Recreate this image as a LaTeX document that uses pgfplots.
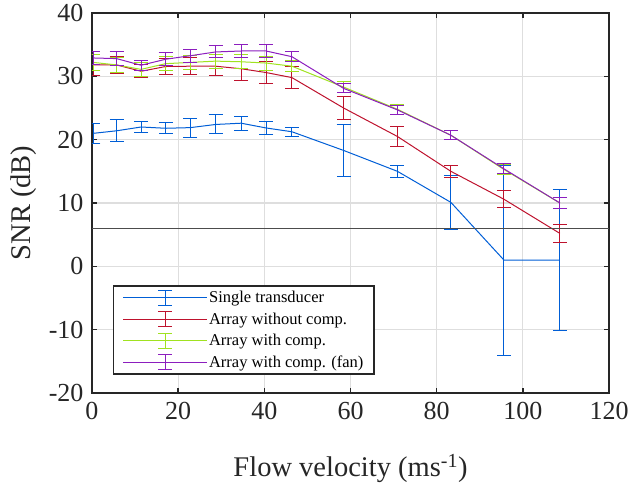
\documentclass[border=0pt]{standalone}
\usepackage{fontspec}
\setmainfont{Liberation Serif}
\usepackage{pgfplots}
\pgfplotsset{compat=1.18}
\definecolor{cblue}{RGB}{0,94,214}
\definecolor{cred}{RGB}{190,18,45}
\definecolor{cgreen}{RGB}{160,226,32}
\definecolor{cpurple}{RGB}{140,30,190}
\definecolor{axc}{RGB}{38,38,38}
\pgfplotstableread{
x y e
0.3 21.0 1.6
5.7 21.4 1.75
11.4 22.0 0.85
17.1 21.8 0.85
22.8 21.9 1.5
28.7 22.4 1.5
34.6 22.6 1.1
40.4 21.85 1.0
46.4 21.25 0.75
58.4 18.3 4.1
70.9 15.0 0.95
83.3 10.1 4.3
95.6 1.0 15.0
108.6 1.0 11.2
}\single
\pgfplotstableread{
x y e
0.3 31.8 1.6
5.7 31.8 1.3
11.4 30.8 1.0
17.1 31.55 1.2
22.8 31.6 1.3
28.7 31.6 1.4
34.6 31.2 1.8
40.4 30.6 1.7
46.4 29.8 1.7
58.4 25.0 1.8
70.9 20.5 1.6
83.3 15.0 1.0
95.6 10.6 1.3
108.6 5.2 1.45
}\nocomp
\pgfplotstableread{
x y e
0.3 32.2 1.2
5.7 31.8 1.2
11.4 31.1 1.1
17.1 32.0 1.1
22.8 32.2 1.1
28.7 32.4 1.1
34.6 32.3 1.1
40.4 32.1 1.1
46.4 31.6 0.9
58.4 28.3 0.9
70.9 24.8 0.8
83.3 20.7 0.7
95.6 15.3 0.8
108.6 10.0 0.9
}\withcomp
\pgfplotstableread{
x y e
0.3 32.9 1.0
5.7 32.8 1.05
11.4 31.75 0.8
17.1 32.7 1.0
22.8 33.25 1.05
28.7 33.85 0.95
34.6 34.0 0.95
40.4 34.0 0.95
46.4 33.1 0.8
58.4 28.1 0.7
70.9 24.7 0.7
83.3 20.7 0.75
95.6 15.4 0.8
108.6 10.0 0.9
}\fan
\pgfplotsset{
  ebar/.style={draw=#1, color=#1, mark=none, line width=1pt,
    error bars/.cd, y dir=both, y explicit,
    error bar style={draw=#1, line width=1pt},
    error mark options={draw=#1, color=#1, mark size=7pt, line width=1pt, rotate=90}},
}
\begin{document}
\begin{tikzpicture}
\begin{axis}[
  name=ax,
  scale only axis,
  width=517pt, height=380pt,
  xmin=0, xmax=120, ymin=-20, ymax=40,
  xtick={0,20,...,120},
  ytick={-20,-10,...,40},
  yticklabels={-20,-10,0,10,20,30,40},
  xticklabels={0,20,40,60,80,100,120},
  tick label style={font=\fontsize{26}{30}\selectfont, text=axc},
  label style={font=\fontsize{28.5}{32}\selectfont, text=axc},
  xlabel={Flow velocity (ms\textsuperscript{-1})},
  ylabel={SNR (dB)},
  grid=major,
  major grid style={line width=1.3pt, black!13},
  axis line style={line width=1.8pt, axc},
  tick style={line width=1.5pt, axc},
  major tick length=5pt,
  tick align=inside,
  xticklabel style={yshift=-6pt},
  yticklabel style={xshift=-5pt},
  xlabel style={yshift=-27pt},
  ylabel style={yshift=5pt},
  legend cell align=left,
  legend image code/.code={
    \draw[#1] (0pt,0pt) -- (84pt,0pt);
    \draw[#1] (42pt,-7.5pt) -- (42pt,7.5pt);
    \draw[#1] (35pt,-7.5pt) -- (49pt,-7.5pt);
    \draw[#1] (35pt,7.5pt) -- (49pt,7.5pt);
  },
  legend style={at={(rel axis cs:0.04,0.047)}, anchor=south west,
    font=\fontsize{16.5}{19}\selectfont, draw=axc, line width=1.8pt,
    row sep=5.5pt, inner xsep=9pt, inner ysep=4pt,
    nodes={inner sep=1.5pt, line width=1pt}},
]
\addplot[ebar=cblue] table[x=x,y=y,y error=e] {\single};
\addlegendentry{Single transducer}
\addplot[ebar=cred] table[x=x,y=y,y error=e] {\nocomp};
\addlegendentry{Array without comp.}
\addplot[ebar=cgreen] table[x=x,y=y,y error=e] {\withcomp};
\addlegendentry{Array with comp.}
\addplot[ebar=cpurple] table[x=x,y=y,y error=e] {\fan};
\addlegendentry{Array with comp. (fan)}
\addplot[black!70, line width=0.8pt, forget plot] coordinates {(0,6) (120,6)};
\end{axis}
\pgfresetboundingbox
\path (ax.south west) +(-92pt,-92pt) (ax.north east) +(20pt,13pt);
\end{tikzpicture}
\end{document}
